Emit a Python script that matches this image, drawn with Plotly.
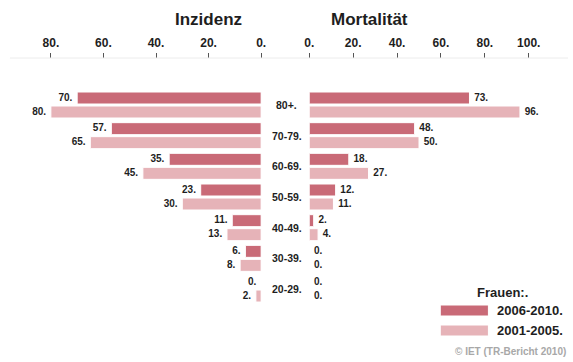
import plotly.graph_objects as go

# Age groups (top to bottom)
age_groups = ["80+", "70-79", "60-69", "50-59", "40-49", "30-39", "20-29"]

# Incidence per 100,000 women
incidence_2006_2010 = [70, 57, 35, 23, 11, 6, 0]
incidence_2001_2005 = [80, 65, 45, 30, 13, 8, 2]

# Mortality per 100,000 women
mortality_2006_2010 = [73, 48, 18, 12, 2, 0, 0]
mortality_2001_2005 = [96, 50, 27, 11, 4, 0, 0]

periods = ["2006-2010", "2001-2005"]
colors = ["#C96A77", "#E6B3B8"]

incidence_ticks = [0, 20, 40, 60, 80]
mortality_ticks = [0, 20, 40, 60, 80, 100]

W, H = 573, 362
FONT = "Liberation Sans, Arial, sans-serif"
TEXT = "#1e1e1e"

ROW_PX = 30.67          # distance between age groups
FIRST_ROW_PX = 105      # centre of the first age group
OFFSET = 7 / ROW_PX     # half distance between the two periods of a group
BAR_W = 12 / ROW_PX     # bar thickness


def px_x(p):
    return p / W


def px_y(p):
    return 1 - p / H


rows = list(range(len(age_groups)))
fig = go.Figure()

series = [
    (incidence_2006_2010, "x", 0, "middle left"),
    (incidence_2001_2005, "x", 1, "middle left"),
    (mortality_2006_2010, "x2", 0, "middle right"),
    (mortality_2001_2005, "x2", 1, "middle right"),
]
for vals, xa, k, tpos in series:
    ys = [r + (2 * k - 1) * OFFSET for r in rows]
    fig.add_trace(go.Bar(
        y=ys, x=vals, orientation="h", xaxis=xa, yaxis="y", width=BAR_W,
        name=periods[k], showlegend=False,
        marker=dict(color=colors[k], line=dict(color="white", width=1)),
        hoverinfo="skip",
    ))
    # value labels at the bar ends (invisible markers keep them clear of the bar)
    fig.add_trace(go.Scatter(
        y=ys, x=vals, xaxis=xa, yaxis="y", mode="markers+text",
        marker=dict(size=6, opacity=0),
        text=[f"{v}." for v in vals], textposition=tpos,
        textfont=dict(family=FONT, size=10, color=TEXT, weight="bold"),
        showlegend=False, cliponaxis=False, hoverinfo="skip",
    ))

axis_pos = px_y(58)
common_x = dict(
    side="top", anchor="free", position=axis_pos,
    showgrid=False, zeroline=False, showline=False,
    ticks="outside", ticklen=5, tickwidth=1, tickcolor="#555",
    tickfont=dict(family=FONT, size=12, color=TEXT, weight="bold"),
    ticklabelstandoff=1, fixedrange=True,
)
fig.update_layout(
    width=W, height=H,
    margin=dict(l=0, r=0, t=0, b=0),
    paper_bgcolor="white", plot_bgcolor="white",
    barmode="overlay",
    xaxis=dict(domain=[0, px_x(260.7)], range=[97.46, 0],
               tickvals=incidence_ticks,
               ticktext=[f"{t}." for t in incidence_ticks], **common_x),
    xaxis2=dict(domain=[px_x(309.7), 1], range=[0, 117.9],
                tickvals=mortality_ticks,
                ticktext=[f"{t}." for t in mortality_ticks], **common_x),
    yaxis=dict(range=[(H - FIRST_ROW_PX) / ROW_PX, -FIRST_ROW_PX / ROW_PX],
               showticklabels=False, showgrid=False, zeroline=False,
               showline=False, fixedrange=True),
    font=dict(family=FONT, color=TEXT),
)

# Baseline under the axis ticks
fig.add_shape(type="line", xref="paper", yref="paper",
              x0=px_x(5), x1=1, y0=axis_pos, y1=axis_pos,
              line=dict(color="#ececec", width=1))


def label(text, x, y, size, color=TEXT, bold=True, xanchor="center",
          yref="paper"):
    fig.add_annotation(text=text, x=x, y=y, xref="paper", yref=yref,
                       xanchor=xanchor, yanchor="middle", showarrow=False,
                       borderpad=0,
                       font=dict(family=FONT, size=size, color=color,
                                 weight="bold" if bold else "normal"))


# Panel titles
label("Inzidenz", px_x(207), px_y(20), 17)
label("Mortalität", px_x(371), px_y(20), 17)

# Age group labels between the panels
for r, g in zip(rows, age_groups):
    label(f"{g}.", px_x(287), r, 10.5, yref="y")

# Legend
label("Frauen:.", px_x(506), px_y(292), 13)
for i, (name, col) in enumerate(zip(periods, colors)):
    top = 305 + i * 20
    fig.add_shape(type="rect", xref="paper", yref="paper",
                  x0=px_x(443), x1=px_x(492), y0=px_y(top), y1=px_y(top + 11),
                  fillcolor=col, line=dict(color="white", width=1))
    label(f"{name}.", px_x(500), px_y(top + 5.5), 13, xanchor="left")

# Source note
label("© IET (TR-Bericht 2010)", px_x(572), px_y(351), 10, color="#a8a8a8",
      xanchor="right")

fig.write_html("out.html")
